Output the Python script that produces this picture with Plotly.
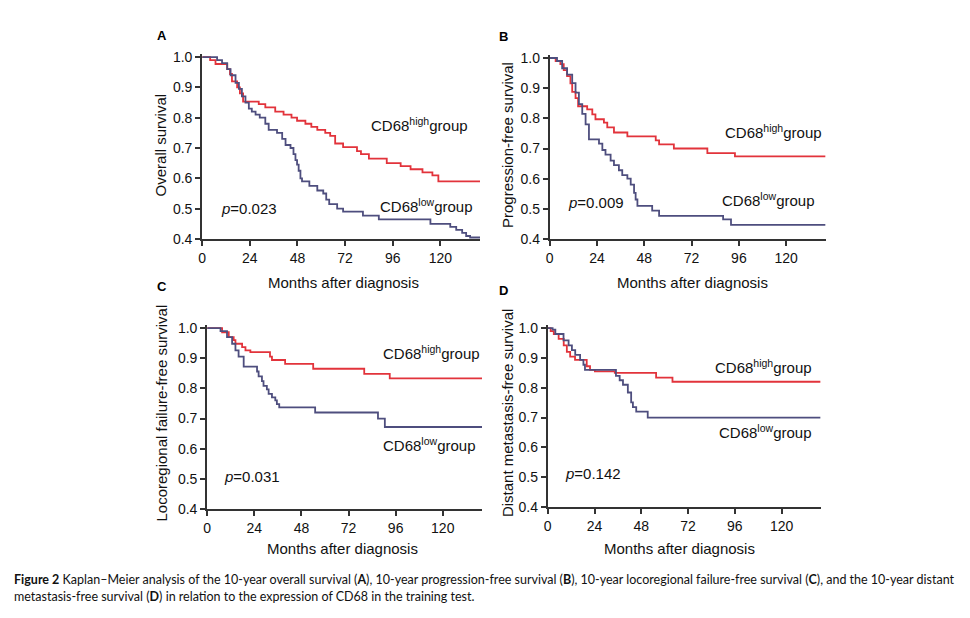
import plotly.graph_objects as go

# ---------------- data (months, survival probability) ----------------
A_high_t = [0, 4, 6.7, 12.6, 14, 15, 17.6, 19, 20.6, 28.5, 31.8, 36.8, 41, 45, 47.8, 52, 55, 58, 62, 64.5, 67, 71, 78, 80, 84, 93, 100, 105, 111, 116, 119, 140]
A_high_s = [1.0, 0.99, 0.977, 0.96, 0.944, 0.92, 0.90, 0.88, 0.853, 0.845, 0.834, 0.82, 0.81, 0.80, 0.79, 0.78, 0.77, 0.76, 0.75, 0.74, 0.715, 0.703, 0.69, 0.68, 0.665, 0.65, 0.64, 0.63, 0.62, 0.61, 0.59, 0.59]
A_low_t = [0, 7.5, 10, 12.6, 14.3, 16.8, 18.5, 20, 21.8, 23.5, 25, 26.9, 29, 31.8, 33.5, 37.7, 40.3, 42, 44.5, 46, 47, 47.8, 48.6, 49.5, 50.3, 54, 58, 61, 62.5, 64, 68, 71, 81, 89, 115, 125, 128, 131, 133, 135, 140]
A_low_s = [1.0, 0.99, 0.98, 0.96, 0.94, 0.915, 0.895, 0.87, 0.85, 0.83, 0.82, 0.81, 0.80, 0.78, 0.76, 0.75, 0.73, 0.71, 0.70, 0.68, 0.66, 0.645, 0.625, 0.60, 0.59, 0.575, 0.56, 0.55, 0.53, 0.515, 0.50, 0.49, 0.477, 0.465, 0.45, 0.44, 0.43, 0.42, 0.41, 0.405, 0.405]

B_high_t = [0, 3, 5.4, 7.1, 8.8, 10.5, 11.4, 13.1, 14.4, 19, 21.6, 23.2, 27.5, 29.2, 32.6, 39.4, 53.8, 55.5, 63, 80, 94, 140]
B_high_s = [1.0, 0.99, 0.98, 0.96, 0.94, 0.916, 0.888, 0.867, 0.84, 0.83, 0.813, 0.797, 0.786, 0.77, 0.753, 0.74, 0.727, 0.714, 0.70, 0.685, 0.674, 0.674]
B_low_t = [0, 3.7, 6.3, 8.8, 11.4, 13.1, 14.8, 16.5, 18.2, 19.9, 25, 26.7, 28.3, 30.9, 32.6, 35.1, 36.8, 39.4, 41.1, 42.8, 43.6, 44.5, 52, 55.5, 88, 92, 140]
B_low_s = [1.0, 0.99, 0.966, 0.945, 0.917, 0.885, 0.847, 0.815, 0.78, 0.73, 0.716, 0.695, 0.68, 0.66, 0.645, 0.628, 0.612, 0.60, 0.58, 0.553, 0.531, 0.51, 0.494, 0.477, 0.465, 0.447, 0.447]

C_high_t = [0, 7.6, 11, 13.5, 14.4, 17.8, 19.5, 22, 32, 33, 39.7, 54, 80, 93, 140]
C_high_s = [1.0, 0.986, 0.97, 0.96, 0.948, 0.937, 0.926, 0.92, 0.905, 0.894, 0.881, 0.865, 0.848, 0.833, 0.833]
C_low_t = [0, 6.8, 10.1, 12.7, 14.4, 16, 18.6, 25.4, 26.2, 27.9, 28.7, 30.4, 31.3, 33, 34.7, 35.5, 36.7, 55, 87, 90.5, 140]
C_low_s = [1.0, 0.99, 0.97, 0.948, 0.926, 0.905, 0.872, 0.856, 0.84, 0.824, 0.808, 0.797, 0.782, 0.77, 0.76, 0.748, 0.737, 0.72, 0.70, 0.672, 0.672]

D_high_t = [0, 1.5, 3.1, 5.6, 8.2, 9.8, 11.5, 14, 20, 21.7, 24.2, 34.4, 55.6, 64, 140]
D_high_s = [1.0, 0.99, 0.98, 0.964, 0.942, 0.92, 0.904, 0.893, 0.872, 0.86, 0.855, 0.85, 0.834, 0.82, 0.82]
D_low_t = [0, 2.5, 3.9, 8.1, 10.7, 12.4, 14.1, 16.6, 18.3, 19.1, 35, 36.9, 38.6, 41.1, 42.8, 43.7, 45.4, 51.3, 140]
D_low_s = [1.0, 0.995, 0.98, 0.959, 0.942, 0.926, 0.91, 0.893, 0.877, 0.86, 0.84, 0.825, 0.81, 0.784, 0.751, 0.735, 0.72, 0.70, 0.70]

panel_letters = ["A", "B", "C", "D"]
y_titles = ["Overall survival", "Progression-free survival",
            "Locoregional failure-free survival", "Distant metastasis-free survival"]
x_title = "Months after diagnosis"
p_values = ["0.023", "0.009", "0.031", "0.142"]
x_ticks = [0, 24, 48, 72, 96, 120]
y_ticks = [0.4, 0.5, 0.6, 0.7, 0.8, 0.9, 1.0]
caption_1 = ("<b>Figure 2</b> Kaplan–Meier analysis of the 10-year overall survival (<b>A</b>), "
             "10-year progression-free survival (<b>B</b>), 10-year locoregional failure-free survival (<b>C</b>), "
             "and the 10-year distant")
caption_2 = "metastasis-free survival (<b>D</b>) in relation to the expression of CD68 in the training test."

series = [
    (A_high_t, A_high_s, A_low_t, A_low_s),
    (B_high_t, B_high_s, B_low_t, B_low_s),
    (C_high_t, C_high_s, C_low_t, C_low_s),
    (D_high_t, D_high_s, D_low_t, D_low_s),
]

# ---------------- layout geometry (page pixels) ----------------
PAGE_W, PAGE_H = 970, 618
OFF = 8                      # default body margin of the html page
W, H = PAGE_W - 2 * OFF, PAGE_H - 2 * OFF
RED = "#E2333B"
BLUE = "#4E4E7E"
AXC = "#333333"
FONT = "Liberation Sans, Arial, sans-serif"

def px(x, y):
    return (x - OFF) / W, 1 - (y - OFF) / H

# plot boxes: left, right, y of 1.0, y of 0.4  (page pixels)
boxes = [
    (199, 478, 53, 239),
    (548, 825, 54, 239),
    (204, 480, 330, 515),
    (546, 820, 330, 513),
]
YMAX = 1.01

fig = go.Figure()
layout = dict(width=W, height=H, margin=dict(l=0, r=0, t=0, b=0),
              paper_bgcolor="white", plot_bgcolor="white", showlegend=False,
              font=dict(family=FONT, color="#111111"))
annotations = []

label_pos = [
    dict(letter=(152, 31), yt=(157, 143), xt=(341, 283), hi=(367, 122), lo=(376, 205), p=(216, 208)),
    dict(letter=(495, 32), yt=(505, 143), xt=(691, 283), hi=(722, 129), lo=(719, 199), p=(564, 202)),
    dict(letter=(152, 288), yt=(158, 417), xt=(340, 555), hi=(379, 355), lo=(379, 449), p=(219, 482)),
    dict(letter=(495, 292), yt=(505, 417), xt=(678, 555), hi=(712, 369), lo=(716, 436), p=(561, 479)),
]

for i, ((ht, hs, lt, ls), (l, r, y1, y04)) in enumerate(zip(series, boxes)):
    k = "" if i == 0 else str(i + 1)
    ppu = (y04 - y1) / 0.6
    ytop = y1 - (YMAX - 1.0) * ppu
    x0, _ = px(l, 0)
    x1, _ = px(r, 0)
    _, yb = px(0, y04)
    _, yt = px(0, ytop)
    layout["xaxis" + k] = dict(domain=[x0, x1], anchor="y" + k, range=[0, 140],
                               tickvals=x_ticks, showline=True, linecolor=AXC, linewidth=2,
                               ticks="outside", ticklen=5, tickwidth=2, tickcolor=AXC,
                               showgrid=False, zeroline=False,
                               tickfont=dict(size=14, family=FONT, color="#111"))
    layout["yaxis" + k] = dict(domain=[yb, yt], anchor="x" + k, range=[0.4, YMAX],
                               tickvals=y_ticks, tickformat=".1f", showline=True, linecolor=AXC,
                               linewidth=2, ticks="outside", ticklen=5, tickwidth=2, tickcolor=AXC,
                               showgrid=False, zeroline=False,
                               tickfont=dict(size=14, family=FONT, color="#111"))
    fig.add_trace(go.Scatter(x=ht, y=hs, mode="lines", line=dict(color=RED, width=1.8, shape="hv"),
                             xaxis="x" + k, yaxis="y" + k, cliponaxis=False))
    fig.add_trace(go.Scatter(x=lt, y=ls, mode="lines", line=dict(color=BLUE, width=1.8, shape="hv"),
                             xaxis="x" + k, yaxis="y" + k, cliponaxis=False))

    lp = label_pos[i]
    ax, ay = px(*lp["letter"])
    annotations.append(dict(x=ax, y=ay, xref="paper", yref="paper", text="<b>%s</b>" % panel_letters[i],
                            showarrow=False, xanchor="left", yanchor="middle",
                            font=dict(size=13, family=FONT, color="#000")))
    ax, ay = px(*lp["yt"])
    annotations.append(dict(x=ax, y=ay, xref="paper", yref="paper", text=y_titles[i], textangle=-90,
                            showarrow=False, xanchor="center", yanchor="middle",
                            font=dict(size=15, family=FONT, color="#111")))
    ax, ay = px(*lp["xt"])
    annotations.append(dict(x=ax, y=ay, xref="paper", yref="paper", text=x_title,
                            showarrow=False, xanchor="center", yanchor="middle",
                            font=dict(size=15, family=FONT, color="#111")))
    ax, ay = px(*lp["hi"])
    annotations.append(dict(x=ax, y=ay, xref="paper", yref="paper", text="CD68<sup>high</sup>group",
                            showarrow=False, xanchor="left", yanchor="middle",
                            font=dict(size=15, family=FONT, color="#111")))
    ax, ay = px(*lp["lo"])
    annotations.append(dict(x=ax, y=ay, xref="paper", yref="paper", text="CD68<sup>low</sup>group",
                            showarrow=False, xanchor="left", yanchor="middle",
                            font=dict(size=15, family=FONT, color="#111")))
    ax, ay = px(*lp["p"])
    annotations.append(dict(x=ax, y=ay, xref="paper", yref="paper", text="<i>p</i>=%s" % p_values[i],
                            showarrow=False, xanchor="left", yanchor="middle",
                            font=dict(size=15, family=FONT, color="#111")))

for txt, yy in [(caption_1, 587), (caption_2, 604)]:
    ax, ay = px(8, yy)
    annotations.append(dict(x=ax, y=ay, xref="paper", yref="paper", text=txt,
                            showarrow=False, xanchor="left", yanchor="middle",
                            font=dict(size=12.5, family="Lato, sans-serif", color="#111")))

layout["annotations"] = annotations
fig.update_layout(**layout)
fig.write_html("out.html")
